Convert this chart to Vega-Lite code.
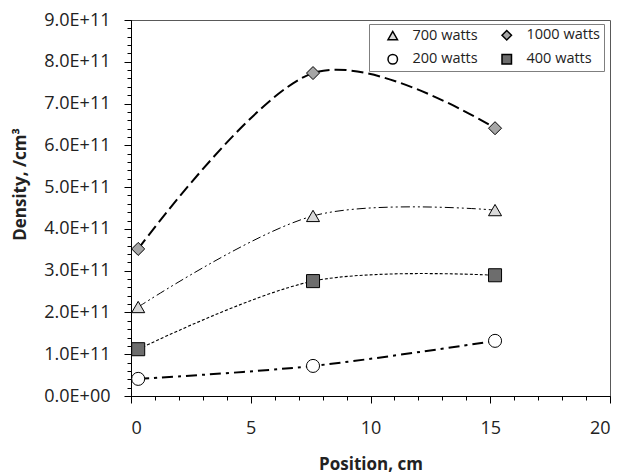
{
  "$schema": "https://vega.github.io/schema/vega-lite/v6.json",
  "width": 479,
  "height": 376,
  "autosize": "none",
  "padding": {"left": 131, "top": 20, "right": 23, "bottom": 78},
  "background": "white",
  "config": {
    "font": "Open Sans",
    "view": {"stroke": "#595959", "strokeWidth": 1},
    "axis": {"grid": false, "domainColor": "#000", "tickColor": "#000", "labelColor": "#222", "titleColor": "#222"}
  },
  "data": {
    "values": [
      {"x": 0.3, "y": 3.52e11, "series": "1000 watts"},
      {"x": 7.6, "y": 7.73e11, "series": "1000 watts"},
      {"x": 15.2, "y": 6.41e11, "series": "1000 watts"},
      {"x": 0.3, "y": 2.13e11, "series": "700 watts"},
      {"x": 7.6, "y": 4.31e11, "series": "700 watts"},
      {"x": 15.2, "y": 4.45e11, "series": "700 watts"},
      {"x": 0.3, "y": 1.12e11, "series": "400 watts"},
      {"x": 7.6, "y": 2.75e11, "series": "400 watts"},
      {"x": 15.2, "y": 2.89e11, "series": "400 watts"},
      {"x": 0.3, "y": 0.41e11, "series": "200 watts"},
      {"x": 7.6, "y": 0.72e11, "series": "200 watts"},
      {"x": 15.2, "y": 1.32e11, "series": "200 watts"}
    ]
  },
  "resolve": {"axis": {"x": "independent", "y": "independent"}},
  "layer": [
    {
      "transform": [{"filter": {"field": "series", "equal": "1000 watts"}}],
      "mark": {"type": "line", "interpolate": "cardinal", "color": "#000", "strokeWidth": 2, "strokeDash": [12, 5]},
      "encoding": {
        "x": {"field": "x", "type": "quantitative", "scale": {"domain": [0, 20], "nice": false, "zero": false},
          "axis": {"orient": "bottom", "values": [0, 5, 10, 15, 20], "tickSize": 7, "labelFontSize": 18, "labelPadding": 16,
            "title": "Position, cm", "titleFontSize": 17, "titleFontWeight": "bold", "titleBaseline": "alphabetic", "titleY": 73, "titleX": 239.5, "titleAlign": "center"}},
        "y": {"field": "y", "type": "quantitative", "scale": {"domain": [0, 9e11], "nice": false, "zero": false},
          "axis": {"orient": "left", "values": [0, 1e11, 2e11, 3e11, 4e11, 5e11, 6e11, 7e11, 8e11, 9e11], "tickSize": 7, "labelFontSize": 18, "labelPadding": 14,
            "labelExpr": "datum.value == 0 ? '0.0E+00' : replace(format(datum.value, '.1e'), 'e', 'E')",
            "title": "Density, /cm³", "titleFontSize": 17, "titleFontWeight": "bold", "titleAngle": -90, "titleX": -111, "titleY": 164, "titleAlign": "center", "titleBaseline": "middle"}}
      }
    },
    {
      "transform": [{"filter": {"field": "series", "equal": "700 watts"}}],
      "mark": {"type": "line", "interpolate": "cardinal", "color": "#000", "strokeWidth": 1, "strokeDash": [9, 3, 2, 3, 2, 3]},
      "encoding": {
        "x": {"field": "x", "type": "quantitative", "axis": null},
        "y": {"field": "y", "type": "quantitative", "axis": null}
      }
    },
    {
      "transform": [{"filter": {"field": "series", "equal": "400 watts"}}],
      "mark": {"type": "line", "interpolate": "cardinal", "color": "#000", "strokeWidth": 1.1, "strokeDash": [3, 2]},
      "encoding": {
        "x": {"field": "x", "type": "quantitative", "axis": null},
        "y": {"field": "y", "type": "quantitative", "axis": null}
      }
    },
    {
      "transform": [{"filter": {"field": "series", "equal": "200 watts"}}],
      "mark": {"type": "line", "interpolate": "cardinal", "color": "#000", "strokeWidth": 2, "strokeDash": [11, 5, 3, 5]},
      "encoding": {
        "x": {"field": "x", "type": "quantitative", "axis": null},
        "y": {"field": "y", "type": "quantitative", "axis": null}
      }
    },
    {
      "mark": {"type": "point", "filled": true, "opacity": 1, "stroke": "#000", "strokeWidth": 1, "size": 170},
      "encoding": {
        "x": {"field": "x", "type": "quantitative", "axis": null},
        "y": {"field": "y", "type": "quantitative", "axis": null},
        "shape": {"field": "series", "type": "nominal",
          "scale": {"domain": ["700 watts", "200 watts", "1000 watts", "400 watts"], "range": ["triangle-up", "circle", "diamond", "square"]},
          "legend": {"title": null, "orient": "none", "legendX": 238, "legendY": 4, "direction": "vertical", "columns": 2, "padding": 4,
            "strokeColor": "#7f7f7f", "fillColor": "#ffffff", "symbolSize": 90, "symbolOffset": 12.5, "labelOffset": 12.5, "columnPadding": 9, "rowPadding": 8,
            "labelFontSize": 14.5, "labelColor": "#222",
            "encode": {"symbols": {
              "stroke": {"value": "#000"},
              "strokeWidth": {"value": 1}
            }}}},
        "fill": {"field": "series", "type": "nominal",
          "scale": {"domain": ["700 watts", "200 watts", "1000 watts", "400 watts"], "range": ["#d9d9d9", "#ffffff", "#a6a6a6", "#6d6d6d"]},
          "legend": null}
      }
    },
    {
      "transform": [{"filter": "false"}],
      "mark": {"type": "point", "opacity": 0},
      "encoding": {
        "x": {"field": "x", "type": "quantitative",
          "axis": {"orient": "bottom", "values": [0,1,2,3,4,5,6,7,8,9,10,11,12,13,14,15,16,17,18,19,20], "tickSize": 4, "labels": false, "domain": false, "title": null}},
        "y": {"field": "y", "type": "quantitative",
          "axis": {"orient": "left", "values": [0,2e10,4e10,6e10,8e10,1e11,1.2e11,1.4e11,1.6e11,1.8e11,2e11,2.2e11,2.4e11,2.6e11,2.8e11,3e11,3.2e11,3.4e11,3.6e11,3.8e11,4e11,4.2e11,4.4e11,4.6e11,4.8e11,5e11,5.2e11,5.4e11,5.6e11,5.8e11,6e11,6.2e11,6.4e11,6.6e11,6.8e11,7e11,7.2e11,7.4e11,7.6e11,7.8e11,8e11,8.2e11,8.4e11,8.6e11,8.8e11,9e11], "tickSize": 4, "labels": false, "domain": false, "title": null}}
      }
    }
  ]
}
